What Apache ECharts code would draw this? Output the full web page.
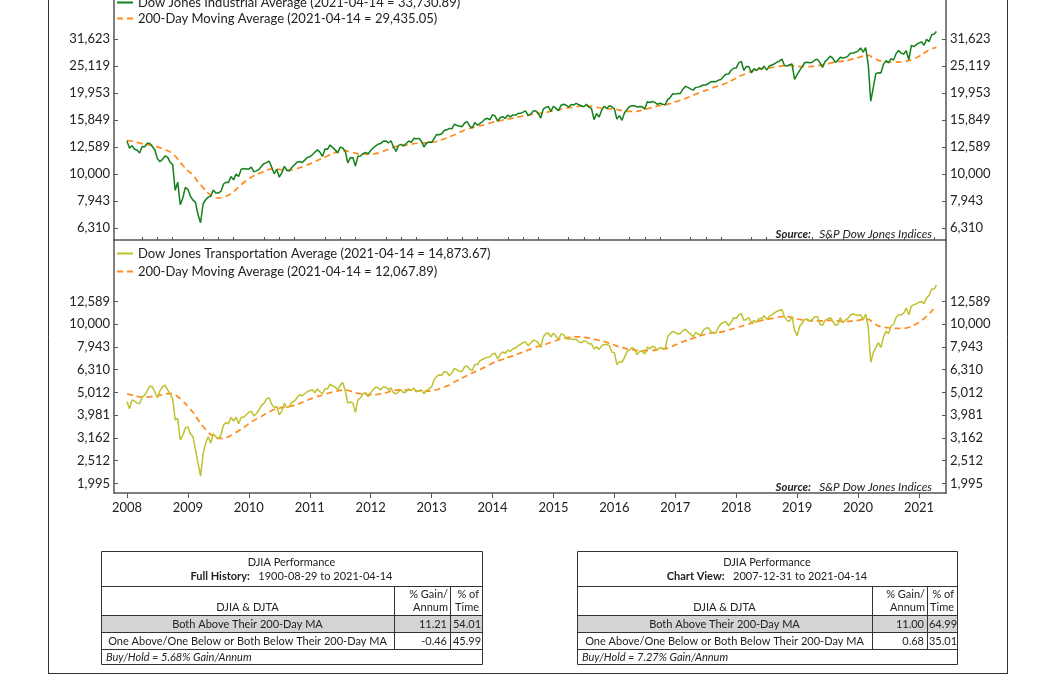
<!DOCTYPE html>
<html>
<head>
<meta charset="utf-8">
<title>DJIA &amp; DJTA vs 200-Day MA</title>
<script src="https://cdn.jsdelivr.net/npm/echarts@6/dist/echarts.min.js"></script>
<style>
  html, body { margin: 0; padding: 0; background: #fff; }
  #chart { width: 1056px; height: 675px; }
</style>
</head>
<body>
<div id="chart"></div>
<script>
// half-month samples (1st and 16th of each month), 2008-01-01 .. 2021-04-01, then 2021-04-14
const djiaClose = [
  13265, 12466, 12743, 12348, 12266, 11972, 12654, 12619, 13010, 12986, 12638, 12270, 11382, 11100, 11326, 11659, 11543, 11059, 10831, 8700, 9325, 7700, 8149, 8924,
  8776, 8281, 8000, 7850, 7063, 6600, 7761, 8029, 8212, 8268, 8721, 8504, 8504, 8616, 9171, 9321, 9310, 9791, 9509, 9995, 9789, 10406, 10471, 10441,
  10428, 10610, 10185, 10268, 10403, 10685, 10927, 11019, 11167, 10620, 10024, 10409, 9732, 10097, 10674, 10303, 10269, 10594, 10829, 11062, 11124, 11023, 11256, 11499,
  11578, 11787, 12040, 12288, 12058, 11613, 12376, 12341, 12807, 12548, 12290, 11961, 12582, 12479, 12132, 11000, 11493, 11509, 10700, 11644, 11657, 11905, 12020, 11866,
  12218, 12482, 12716, 12904, 12980, 13233, 13264, 13030, 13279, 12598, 12119, 12767, 12880, 12727, 12976, 13250, 13090, 13553, 13515, 13551, 13232, 12588, 13025, 13135,
  13104, 13511, 14009, 13982, 14090, 14514, 14573, 14757, 14700, 15308, 15116, 15070, 14975, 15451, 15628, 15081, 14810, 15494, 15191, 15373, 15616, 15962, 16086, 15885,
  16577, 16417, 15699, 16154, 16322, 16066, 16532, 16262, 16560, 16491, 16743, 16781, 16956, 17138, 16493, 16662, 17098, 17131, 16804, 16117, 17390, 17648, 17776, 17068,
  17823, 17511, 17165, 17973, 18133, 17977, 17698, 18106, 18024, 18272, 18040, 17904, 17757, 18120, 17690, 17477, 15900, 16740, 16272, 17215, 17828, 17483, 17888, 17749,
  17425, 15988, 16449, 15800, 16865, 17325, 17792, 17897, 17891, 17711, 17789, 17733, 17400, 18516, 18404, 18552, 18419, 18123, 18308, 18138, 18037, 18868, 19191, 19843,
  19763, 19886, 19890, 20620, 21115, 20934, 20663, 20453, 20913, 20980, 21144, 21384, 21350, 21638, 21964, 22024, 21988, 22268, 22405, 22957, 23435, 23458, 24232, 24651,
  24719, 25792, 26149, 24200, 25029, 24946, 23700, 24573, 24163, 24768, 24416, 25090, 24271, 25064, 25333, 25558, 25965, 26154, 26651, 25250, 25100, 25413, 25538, 22400,
  23327, 24207, 24999, 25883, 25916, 25849, 25929, 26452, 26593, 25862, 24815, 26090, 26600, 27336, 26864, 25886, 26403, 27076, 26917, 27001, 27347, 28004, 28051, 28235,
  28538, 29297, 28256, 29398, 25409, 18592, 20943, 23537, 23724, 23685, 25475, 26290, 25813, 26735, 26428, 27931, 28646, 28032, 27817, 28606, 26502, 29950, 29639, 30154,
  30606, 30814, 29983, 31523, 30932, 32826, 32982, 33731
]
const djtaClose = [
  4570, 4250, 4650, 4600, 4500, 4480, 4800, 4880, 5100, 5350, 5300, 5050, 4750, 5100, 5300, 5400, 5150, 4950, 4700, 3800, 3850, 3100, 3250, 3500,
  3540, 3300, 3200, 2800, 2450, 2150, 2700, 3000, 3200, 3000, 3300, 3200, 3150, 3250, 3600, 3700, 3650, 3900, 3750, 3900, 3650, 3900, 3900, 4000,
  4100, 4150, 3950, 4050, 4200, 4400, 4500, 4700, 4750, 4450, 4300, 4350, 4000, 4150, 4500, 4300, 4350, 4550, 4600, 4750, 4900, 4850, 4950, 5050,
  5100, 5150, 5000, 5200, 5050, 4950, 5200, 5200, 5450, 5350, 5300, 5150, 5400, 5550, 5100, 4500, 4550, 4500, 4100, 4650, 4750, 4950, 5000, 4800,
  5000, 5150, 5300, 5250, 5150, 5300, 5300, 5150, 5250, 5000, 4950, 5050, 5150, 5000, 5050, 5200, 5100, 5250, 5050, 5100, 5150, 4950, 5100, 5200,
  5300, 5700, 5900, 6000, 5950, 6200, 6150, 5950, 6100, 6400, 6300, 6200, 6200, 6500, 6550, 6350, 6250, 6650, 6650, 6900, 7000, 7100, 7150, 7200,
  7400, 7450, 7050, 7350, 7550, 7450, 7700, 7600, 7800, 7850, 8050, 8150, 8300, 8350, 8050, 8250, 8500, 8450, 8300, 7900, 8800, 9100, 9150, 8800,
  9140, 8850, 8600, 9050, 9000, 8650, 8600, 8650, 8550, 8600, 8350, 8300, 8450, 8400, 8200, 8200, 7800, 7950, 7750, 8050, 8150, 8150, 8050, 7550,
  7500, 6650, 6850, 6800, 7150, 7600, 7700, 7900, 7750, 7350, 7600, 7600, 7400, 7950, 7800, 8000, 7900, 7700, 7900, 7850, 7800, 8800, 9100, 9300,
  9200, 9050, 9100, 9400, 9500, 9250, 9050, 8800, 9200, 9050, 8950, 9400, 9600, 9650, 9300, 9150, 9150, 9700, 10050, 10200, 10250, 9850, 10200, 10700,
  10600, 11000, 11150, 10400, 10500, 10700, 10100, 10400, 10200, 10600, 10600, 10900, 10500, 10800, 11000, 11200, 11400, 11500, 11600, 10800, 10400, 10300, 10800, 9400,
  8900, 9800, 10100, 10500, 10550, 10300, 10500, 10800, 10800, 10000, 9900, 10400, 10550, 10700, 10350, 9900, 9950, 10700, 10150, 10450, 10600, 11000, 11100, 11000,
  10930, 11000, 10450, 11100, 9700, 6800, 7500, 7900, 8300, 7900, 8800, 9300, 9100, 9800, 10000, 10700, 11000, 11000, 11200, 11800, 11000, 12000, 12200, 12300,
  12500, 12600, 12300, 13100, 13400, 14300, 14300, 14874
]
// monthly samples (1st of each month), 2008-01 .. 2021-04, then 2021-04-14
const djiaMA = [
  13300, 13250, 13100, 12950, 12850, 12750, 12600, 12400, 12200, 11900, 11350, 10750,
  10300, 9900, 9350, 8900, 8500, 8250, 8150, 8200, 8350, 8600, 8950, 9300,
  9600, 9850, 10050, 10200, 10400, 10450, 10400, 10350, 10350, 10400, 10550, 10700,
  10900, 11100, 11350, 11550, 11800, 12000, 12150, 12200, 12050, 11950, 11850, 11850,
  11850, 11900, 12050, 12250, 12450, 12650, 12700, 12800, 12900, 13000, 13050, 13050,
  13100, 13200, 13400, 13600, 13850, 14100, 14400, 14650, 14850, 15000, 15150, 15350,
  15550, 15700, 15850, 16000, 16100, 16250, 16400, 16500, 16650, 16750, 16850, 17000,
  17150, 17300, 17450, 17600, 17700, 17800, 17850, 17850, 17750, 17600, 17500, 17450,
  17400, 17250, 17100, 17050, 17050, 17150, 17350, 17550, 17750, 17950, 18050, 18250,
  18500, 18750, 19050, 19400, 19750, 20100, 20400, 20750, 21050, 21350, 21700, 22150,
  22650, 23150, 23600, 24000, 24300, 24550, 24700, 24800, 24950, 25150, 25250, 25200,
  25050, 25000, 25000, 25050, 25200, 25400, 25600, 25850, 26050, 26200, 26400, 26700,
  27000, 27350, 27500, 26900, 26350, 26100, 26000, 25950, 25950, 26050, 26300, 26700,
  27300, 28000, 28800, 29300, 29435
]
const djtaMA = [
  4950, 4880, 4820, 4780, 4780, 4820, 4850, 4900, 4950, 4950, 4800, 4600,
  4350, 4100, 3800, 3550, 3350, 3220, 3150, 3150, 3200, 3300, 3400, 3520,
  3650, 3780, 3880, 4000, 4120, 4220, 4280, 4320, 4350, 4400, 4480, 4580,
  4680, 4780, 4850, 4930, 5000, 5060, 5120, 5140, 5080, 5000, 4950, 4920,
  4900, 4900, 4950, 5000, 5080, 5130, 5150, 5150, 5130, 5100, 5080, 5080,
  5100, 5150, 5250, 5350, 5500, 5650, 5800, 5950, 6100, 6250, 6400, 6550,
  6750, 6900, 7000, 7150, 7250, 7400, 7550, 7700, 7850, 8000, 8100, 8250,
  8400, 8550, 8650, 8750, 8800, 8800, 8750, 8700, 8600, 8500, 8400, 8250,
  8100, 7950, 7850, 7750, 7700, 7650, 7650, 7650, 7700, 7750, 7800, 7950,
  8100, 8300, 8450, 8600, 8750, 8900, 9050, 9150, 9200, 9250, 9350, 9500,
  9650, 9800, 9950, 10100, 10250, 10400, 10500, 10600, 10700, 10800, 10800, 10700,
  10550, 10450, 10400, 10350, 10350, 10350, 10400, 10400, 10350, 10300, 10300, 10350,
  10400, 10500, 10500, 10100, 9850, 9700, 9650, 9600, 9600, 9600, 9700, 9900,
  10200, 10600, 11100, 11800, 12068
]

const topTicks = [6310, 7943, 10000, 12589, 15849, 19953, 25119, 31623]
const bottomTicks = [1995, 2512, 3162, 3981, 5012, 6310, 7943, 10000, 12589]
const yearTicks = [2008, 2009, 2010, 2011, 2012, 2013, 2014, 2015, 2016, 2017, 2018, 2019, 2020, 2021]

const djiaName = 'Dow Jones Industrial Average (2021-04-14 = 33,730.89)'
const djiaMaName = '200-Day Moving Average (2021-04-14 = 29,435.05)'
const djtaName = 'Dow Jones Transportation Average (2021-04-14 = 14,873.67)'
const djtaMaName = '200-Day Moving Average (2021-04-14 = 12,067.89)'

// performance tables
const leftTable = {
  title: 'DJIA Performance',
  label: 'Full History:',
  range: '1900-08-29 to 2021-04-14',
  rows: [
    ['Both Above Their 200-Day MA', '11.21', '54.01'],
    ['One Above/One Below or Both Below Their 200-Day MA', '-0.46', '45.99']
  ],
  note: 'Buy/Hold = 5.68% Gain/Annum'
}
const rightTable = {
  title: 'DJIA Performance',
  label: 'Chart View:',
  range: '2007-12-31 to 2021-04-14',
  rows: [
    ['Both Above Their 200-Day MA', '11.00', '64.99'],
    ['One Above/One Below or Both Below Their 200-Day MA', '0.68', '35.01']
  ],
  note: 'Buy/Hold = 7.27% Gain/Annum'
}

const FONT = 'Lato'
const AXIS_COLOR = '#555'
const TEXT_COLOR = '#222'

// dates of the samples, as decimal years
const decYear = (y, m, d) => y + m / 12 + (d - 1) / 365
const buildDates = (count, days) => {
  const out = []
  for (let y = 2008; y <= 2021; y++) {
    for (let m = 0; m < 12; m++) {
      for (const d of days) {
        if (out.length < count - 1) out.push(decYear(y, m, d))
      }
    }
  }
  out.push(decYear(2021, 3, 14))
  return out
}
const halfMonthDates = buildDates(djiaClose.length, [1, 16])
const monthDates = buildDates(djiaMA.length, [1])
const pairs = (dates, vals) => vals.map((v, i) => [dates[i], v])

const xMin = 2007.787
const xMax = 2021.443
const quarterTicks = [2007.75]
yearTicks.forEach(y => [0.25, 0.5, 0.75].forEach(q => { if (y + q < xMax) quarterTicks.push(y + q) }))

const fmt = v => Math.round(v).toLocaleString('en-US')

const yAxisFor = (gridIndex, position, min, max, ticks) => ({
  type: 'log',
  logBase: 10,
  gridIndex,
  position,
  min,
  max,
  axisLine: { show: true, lineStyle: { color: AXIS_COLOR, width: 1.5 } },
  axisTick: { show: true, inside: true, length: 4, customValues: ticks, lineStyle: { color: AXIS_COLOR } },
  axisLabel: {
    customValues: ticks,
    formatter: fmt,
    color: TEXT_COLOR,
    fontFamily: FONT,
    fontSize: 13,
    margin: 4
  },
  splitLine: { show: false },
  minorTick: { show: false }
})

const tableGraphics = (t, x0, d1, d2, x1) => {
  const els = []
  const cx = (x0 + x1) / 2
  const c0 = (x0 + d1) / 2
  const c2 = (d2 + x1) / 2
  const txt = (text, x, y, align, extra) => ({
    type: 'text',
    silent: true,
    style: Object.assign({
      text, x, y, align, verticalAlign: 'middle',
      fontFamily: FONT, fontSize: 11, fill: TEXT_COLOR
    }, extra || {})
  })
  const hline = (y, xa, xb) => ({ type: 'line', silent: true, shape: { x1: xa, y1: y, x2: xb, y2: y }, style: { stroke: '#333', lineWidth: 1 } })
  const vline = (x, ya, yb) => ({ type: 'line', silent: true, shape: { x1: x, y1: ya, x2: x, y2: yb }, style: { stroke: '#333', lineWidth: 1 } })

  els.push({ type: 'rect', silent: true, shape: { x: x0, y: 615, width: x1 - x0, height: 17 }, style: { fill: '#d4d4d4' } })
  els.push({ type: 'rect', silent: true, shape: { x: x0 + 0.5, y: 551.5, width: x1 - x0, height: 113 }, style: { fill: 'none', stroke: '#333', lineWidth: 1 } })
  els.push(hline(586.5, x0, x1), hline(615.5, x0, x1), hline(632.5, x0, x1), hline(649.5, x0, x1))
  els.push(vline(d1 + 0.5, 586, 649), vline(d2 + 0.5, 586, 649))

  els.push(txt(t.title, cx, 562, 'center'))
  els.push(txt('{b|' + t.label + '}   ' + t.range, cx, 576, 'center', {
    rich: { b: { fontFamily: FONT, fontSize: 11, fontWeight: 'bold', fill: TEXT_COLOR } }
  }))
  els.push(txt('% Gain/', d2 - 2, 594, 'right'))
  els.push(txt('Annum', d2 - 2, 607, 'right'))
  els.push(txt('% of', x1 - 3, 594, 'right'))
  els.push(txt('Time', x1 - 3, 607, 'right'))
  els.push(txt('DJIA & DJTA', c0, 607, 'center'))
  t.rows.forEach((r, i) => {
    const y = 624 + i * 17
    els.push(txt(r[0], c0, y, 'center'))
    els.push(txt(r[1], d2 - 3, y, 'right'))
    els.push(txt(r[2], c2 + 1, y, 'center'))
  })
  els.push(txt(t.note, x0 + 5, 657, 'left', { fontStyle: 'italic' }))
  return els
}

const sourceText = y => ({
  type: 'text',
  silent: true,
  style: {
    text: '{b|Source:}   S&P Dow Jones Indices',
    x: 932, y, align: 'right', verticalAlign: 'middle',
    fontFamily: FONT, fontSize: 11.8, fontStyle: 'italic', fill: TEXT_COLOR,
    rich: { b: { fontFamily: FONT, fontSize: 11.4, fontStyle: 'italic', fontWeight: 'bold', fill: TEXT_COLOR } }
  }
})

const frameLine = (x1, y1, x2, y2) => ({ type: 'line', silent: true, shape: { x1, y1, x2, y2 }, style: { stroke: '#333', lineWidth: 1 } })

const legendFor = (names, top, gap) => ({
  data: names,
  orient: 'vertical', left: 116, top, padding: 0, itemGap: gap,
  itemWidth: 16, itemHeight: 10,
  itemStyle: { opacity: 0 },
  textStyle: { fontFamily: FONT, fontSize: 13, color: TEXT_COLOR }
})

const chart = echarts.init(document.getElementById('chart'))

const option = {
  animation: false,
  backgroundColor: '#fff',
  textStyle: { fontFamily: FONT },
  grid: [
    { left: 114, right: 110, top: 0, height: 240 },
    { left: 114, right: 110, top: 240, height: 253 }
  ],
  legend: [
    legendFor([djiaName, djiaMaName], -4, 3),
    legendFor([djtaName, djtaMaName], 247, 5)
  ],
  xAxis: [
    {
      type: 'value', gridIndex: 0, min: xMin, max: xMax,
      axisLine: { show: true, lineStyle: { color: AXIS_COLOR, width: 1.5 } },
      axisTick: { show: false }, axisLabel: { show: false }, splitLine: { show: false }
    },
    {
      type: 'value', gridIndex: 1, min: xMin, max: xMax,
      axisLine: { show: true, lineStyle: { color: AXIS_COLOR, width: 1.5 } },
      axisTick: { show: true, length: 5, customValues: yearTicks, lineStyle: { color: AXIS_COLOR } },
      axisLabel: {
        customValues: yearTicks,
        formatter: v => String(Math.round(v)),
        color: TEXT_COLOR, fontFamily: FONT, fontSize: 13, margin: 8
      },
      splitLine: { show: false }
    },
    {
      type: 'value', gridIndex: 1, min: xMin, max: xMax,
      axisLine: { show: false },
      axisTick: { show: true, length: 3, customValues: quarterTicks, lineStyle: { color: AXIS_COLOR } },
      axisLabel: { show: false },
      splitLine: { show: false }
    }
  ],
  yAxis: [
    yAxisFor(0, 'left', 5696, 44110, topTicks),
    yAxisFor(0, 'right', 5696, 44110, topTicks),
    yAxisFor(1, 'left', 1812, 23460, bottomTicks),
    yAxisFor(1, 'right', 1812, 23460, bottomTicks)
  ],
  series: [
    {
      name: djiaMaName, type: 'line', xAxisIndex: 0, yAxisIndex: 0,
      data: pairs(monthDates, djiaMA), symbol: 'none', smooth: true,
      lineStyle: { color: '#ff8a1e', width: 1.7, type: [6, 4] }, itemStyle: { color: '#ff8a1e' }
    },
    {
      name: djiaName, type: 'line', xAxisIndex: 0, yAxisIndex: 0,
      data: pairs(halfMonthDates, djiaClose), symbol: 'none',
      lineStyle: { color: '#13801c', width: 1.5 }, itemStyle: { color: '#13801c' }
    },
    {
      name: djtaMaName, type: 'line', xAxisIndex: 1, yAxisIndex: 2,
      data: pairs(monthDates, djtaMA), symbol: 'none', smooth: true,
      lineStyle: { color: '#ff8a1e', width: 1.7, type: [6, 4] }, itemStyle: { color: '#ff8a1e' }
    },
    {
      name: djtaName, type: 'line', xAxisIndex: 1, yAxisIndex: 2,
      data: pairs(halfMonthDates, djtaClose), symbol: 'none',
      lineStyle: { color: '#bfc12f', width: 1.5 }, itemStyle: { color: '#bfc12f' }
    }
  ],
  graphic: [
    frameLine(48.5, -2, 48.5, 673.5),
    frameLine(48, 673.5, 1008, 673.5),
    frameLine(1007.5, -2, 1007.5, 673.5),
    sourceText(234),
    sourceText(487),
    ...tableGraphics(leftTable, 101, 394, 450, 482),
    ...tableGraphics(rightTable, 577, 872, 927, 957)
  ]
}

chart.setOption(option)
window.addEventListener('resize', () => chart.resize())
</script>
</body>
</html>
